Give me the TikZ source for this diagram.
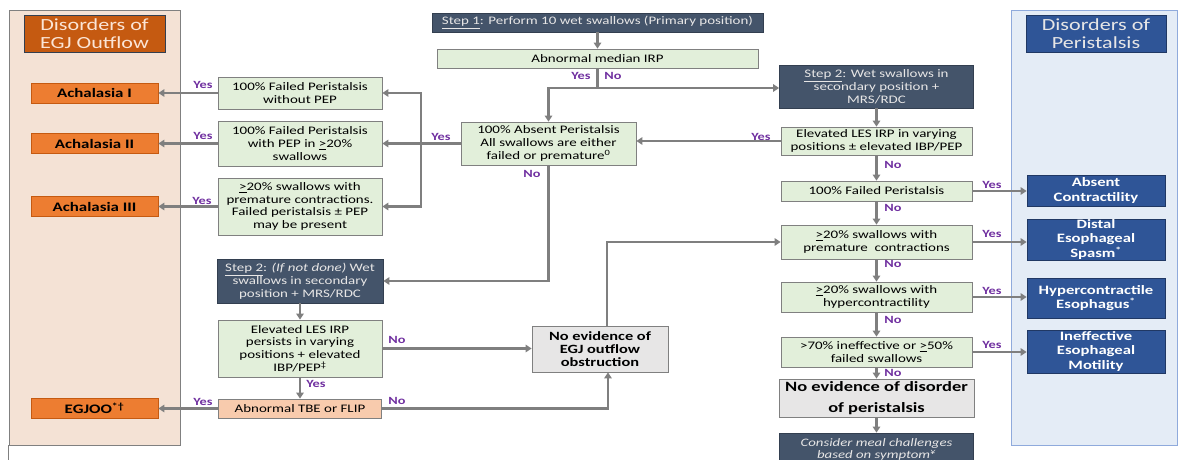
\documentclass[tikz,border=0pt]{standalone}
\usepackage{fontspec}
\setmainfont{Carlito}[FakeStretch=1.3]
\usetikzlibrary{arrows.meta,calc}
\definecolor{cLine}{HTML}{7F7F7F}
\definecolor{cGreen}{HTML}{E2EFDA}
\definecolor{cBord}{HTML}{808080}
\definecolor{cSlate}{HTML}{44546A}
\definecolor{cSlateD}{HTML}{333F50}
\definecolor{cLight}{HTML}{E7E6E6}
\definecolor{cOrD}{HTML}{C55A11}
\definecolor{cOrText}{HTML}{FBE5D6}
\definecolor{cOrange}{HTML}{ED7D31}
\definecolor{cPeachP}{HTML}{F4E2D5}
\definecolor{cPeach}{HTML}{F8CBAD}
\definecolor{cBlueP}{HTML}{E4ECF6}
\definecolor{cBlueB}{HTML}{8FAADC}
\definecolor{cBlue}{HTML}{2F5597}
\definecolor{cBlueD}{HTML}{203864}
\definecolor{cGrayBox}{HTML}{E7E6E6}
\definecolor{cPurple}{HTML}{7030A0}
\begin{document}
\begin{tikzpicture}[x=1pt,y=-1pt,
  sz/.style n args={2}{minimum width=#1pt,minimum height=#2pt},
  base/.style={rectangle,align=center,inner sep=0pt,font=\fontsize{11.5}{12.8}\selectfont},
  gbox/.style={base,fill=cGreen,draw=cBord,line width=0.8pt},
  dbox/.style={base,fill=cSlate,draw=cSlateD,line width=0.8pt,text=cLight},
  obox/.style={base,fill=cOrange,draw=cOrD,line width=0.8pt,text=black,font=\fontsize{13}{14}\selectfont\bfseries},
  bbox/.style={base,fill=cBlue,draw=cBlueD,line width=0.8pt,text=white,font=\fontsize{12.8}{14.5}\selectfont\bfseries},
  pbox/.style={base,fill=cPeach,draw=cBord,line width=0.8pt},
  nbox/.style={base,fill=cGrayBox,draw=cBord,line width=0.8pt,font=\fontsize{12.6}{13}\selectfont\bfseries},
  titleL/.style={base,fill=cOrD,draw=cSlateD,line width=0.8pt,text=cOrText,font=\fontsize{17}{18}\selectfont},
  titleR/.style={base,fill=cBlue,draw=cBlueD,line width=0.8pt,text=cLight,font=\fontsize{17}{18}\selectfont},
  panelL/.style={rectangle,fill=cPeachP,draw=cBord,line width=0.9pt},
  panelR/.style={rectangle,fill=cBlueP,draw=cBlueB,line width=0.9pt},
  lbl/.style={inner sep=0pt,text=cPurple,font=\fontsize{11}{12}\selectfont\bfseries},
  wire/.style={draw=cLine,line width=2.4pt},
  conn/.style={wire,-{Triangle[length=6pt,width=7.5pt]}},
  bconn/.style={wire,{Triangle[length=6pt,width=7.5pt]}-{Triangle[length=6pt,width=7.5pt]}}]
\useasboundingbox (0,0) rectangle (1178,460);
% panels
\node[panelL,sz={171}{435}] (pL) at (94.5,227.5) {};
\node[panelR,sz={166}{435}] (pR) at (1094,227.5) {};
\draw[draw=cBord,line width=0.9pt] (pL.south west) -- ++(0,16);
% titles
\node[titleL,sz={141}{37}] (tL) at (94.5,33.5) {Disorders of\\EGJ Outflow};
\node[titleR,sz={140}{37}] (tR) at (1096,33.5) {Disorders of\\Peristalsis};
% left diagnoses
\node[obox,sz={127}{20}] (a1) at (94.5,93) {Achalasia I};
\node[obox,sz={127}{20}] (a2) at (94.5,143.5) {Achalasia II};
\node[obox,sz={127}{20}] (a3) at (94.5,206.5) {Achalasia III};
\node[obox,sz={127}{20}] (eg) at (94.5,408.5) {EGJOO\textsuperscript{*\dag}};
% left decisions
\node[gbox,sz={164}{32}] (f1) at (300,93) {100\% Failed Peristalsis\\without PEP};
\node[gbox,sz={164}{45}] (f2) at (300,143.5) {100\% Failed Peristalsis\\with PEP in \underline{>}20\%\\swallows};
\node[gbox,sz={164}{57}] (f3) at (300,206.5) {\underline{>}20\% swallows with\\premature contractions.\\Failed peristalsis ± PEP\\may be present};
% top
\node[dbox,sz={331}{19}] (s1) at (597.5,22.5) {\underline{Step 1}: Perform 10 wet swallows (Primary position)};
\node[gbox,sz={321}{19}] (irp) at (597.5,58.5) {Abnormal median IRP};
\node[gbox,sz={175}{43}] (ab) at (548.5,143.5) {100\% Absent Peristalsis\\All swallows are either\\failed or premature\textsuperscript{0}};
% lower left
\node[dbox,sz={166}{44}] (s2L) at (300,281) {\underline{Step 2}: \textit{(If not done)} Wet\\swallows in secondary\\position + MRS/RDC};
\node[gbox,sz={164}{57}] (elL) at (300,348.5) {Elevated LES IRP\\persists in varying\\positions + elevated\\IBP/PEP\textsuperscript{\ddag}};
\node[pbox,sz={163}{19}] (tbe) at (300,408.5) {Abnormal TBE or FLIP};
\node[nbox,sz={136}{46}] (ne) at (600,349) {No evidence of\\EGJ outflow\\obstruction};
% right column
\node[dbox,sz={194}{43}] (s2R) at (876.5,86.5) {\underline{Step 2}: Wet swallows in\\secondary position +\\MRS/RDC};
\node[gbox,sz={191}{28}] (elR) at (876.5,141) {Elevated LES IRP in varying\\positions ± elevated IBP/PEP};
\node[gbox,sz={191}{20}] (fp) at (876.5,191) {100\% Failed Peristalsis};
\node[gbox,sz={191}{34}] (pr) at (876.5,242) {\underline{>}20\% swallows with\\premature\ \ contractions};
\node[gbox,sz={191}{30}] (hy) at (876.5,297) {\underline{>}20\% swallows with\\hypercontractility};
\node[gbox,sz={191}{30}] (ie) at (876.5,352) {>70\% ineffective or \underline{>}50\%\\failed swallows};
\node[nbox,sz={195}{38},font=\fontsize{14.2}{20.5}\selectfont\bfseries] (np) at (876.5,398) {No evidence of disorder\\of peristalsis};
\node[dbox,sz={194}{33},font=\fontsize{11.4}{12}\selectfont\itshape] (mc) at (876.5,449.5) {Consider meal challenges\\based on symptom\textsuperscript{¥}};
% right diagnoses
\node[bbox,sz={138}{31}] (ac) at (1096,190.5) {Absent\\Contractility};
\node[bbox,sz={138}{41}] (ds) at (1096,239.5) {Distal\\Esophageal\\Spasm\textsuperscript{*}};
\node[bbox,sz={138}{40}] (hc) at (1096,298) {Hypercontractile\\Esophagus\textsuperscript{*}};
\node[bbox,sz={138}{43}] (im) at (1096,351.5) {Ineffective\\Esophageal\\Motility};
% connectors top
\coordinate (j) at (597.5,88);
\draw[conn] (s1) -- (irp);
\draw[wire] (irp.south) -- (j);
\draw[conn] (j) -- (ab.north |- j) -- (ab.north);
\draw[conn] (j) -- (j -| s2R.west);
\node[lbl] (y0) at (581,76) {Yes};
\node[lbl] (n0) at (613,76) {No};
% absent peristalsis branches
\coordinate (br) at (421,143.5);
\draw[conn] (ab.west) -- (f2.east);
\draw[bconn] (f1.east) -- (br |- f1.east) -- (br |- f3.east) -- (f3.east);
\node[lbl] (yab) at (441,137) {Yes};
\draw[conn] (f1.west) -- (a1.east);
\draw[conn] (f2.west) -- (a2.east);
\draw[conn] (f3.west) -- (a3.east);
\node[lbl] (y1) at (203,85) {Yes};
\node[lbl] (y2) at (203,136) {Yes};
\node[lbl] (y3) at (202,201) {Yes};
\draw[conn] (ab.south) -- (ab.south |- s2L.east) -- (s2L.east);
\node[lbl] (nab) at (532,174) {No};
% lower left
\draw[conn] (s2L) -- (elL);
\draw[conn] (elL.east) -- (elL.east -| ne.west);
\node[lbl] (nel) at (397,340) {No};
\draw[conn] (elL) -- (tbe);
\node[lbl] (yel) at (316,384) {Yes};
\draw[conn] (tbe.west) -- (eg.east);
\node[lbl] (y4) at (203,402) {Yes};
\coordinate (c1) at (608,408.5);
\draw[conn] (tbe.east) -- (c1) -- (c1 |- ne.south);
\node[lbl] (ntb) at (397,401) {No};
\coordinate (c2) at (607,242);
\draw[conn] (c2 |- ne.north) -- (c2) -- (pr.west);
% right column
\draw[conn] (s2R) -- (elR);
\draw[conn] (elR.west) -- (elR.west -| ab.east);
\node[lbl] (yer) at (761,137) {Yes};
\draw[conn] (elR) -- (fp);
\draw[conn] (fp) -- (pr);
\draw[conn] (pr) -- (hy);
\draw[conn] (hy) -- (ie);
\draw[conn] (ie) -- (np);
\draw[conn] (np) -- (mc);
\node[lbl] (n1) at (893,165) {No};
\node[lbl] (n2) at (893,208) {No};
\node[lbl] (n3) at (893,264) {No};
\node[lbl] (n4) at (893,320) {No};
\node[lbl] (n5) at (893,373) {No};
\draw[conn] (fp.east) -- (fp.east -| ac.west);
\draw[conn] (pr.east) -- (pr.east -| ds.west);
\draw[conn] (hy.east) -- (hy.east -| hc.west);
\draw[conn] (ie.east) -- (ie.east -| im.west);
\node[lbl] (y5) at (992,185) {Yes};
\node[lbl] (y6) at (992,234) {Yes};
\node[lbl] (y7) at (992,291) {Yes};
\node[lbl] (y8) at (992,345) {Yes};
\end{tikzpicture}
\end{document}
